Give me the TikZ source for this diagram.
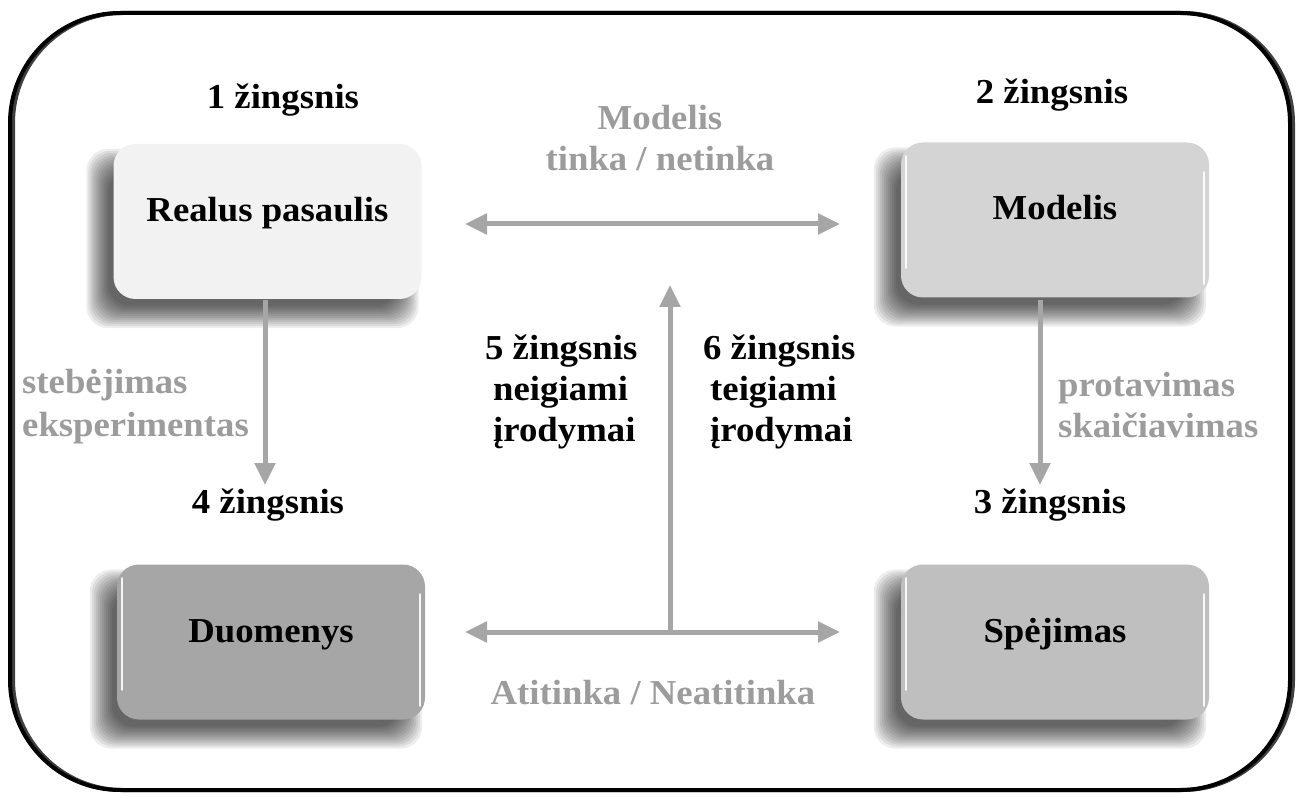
\documentclass[tikz,border=0pt]{standalone}
\usepackage{fontspec}
\setmainfont{Liberation Serif}[FakeStretch=1.05]
\usetikzlibrary{arrows.meta}
\definecolor{arrowgray}{HTML}{A6A6A6}
\definecolor{labelgray}{HTML}{9C9C9C}
\definecolor{fillA}{HTML}{F2F2F2}
\definecolor{fillB}{HTML}{D4D4D4}
\definecolor{fillC}{HTML}{BFBFBF}
\definecolor{fillD}{HTML}{A6A6A6}
\pgfdeclarelayer{bottom}
\pgfdeclarelayer{shadowlayer}
\pgfsetlayers{bottom,shadowlayer,main}
\newcommand{\softshadow}[1]{%
  \begin{pgfonlayer}{shadowlayer}
  \foreach \k in {0,...,11}{%
    \pgfmathsetmacro{\dd}{12-2*\k}
    \fill[black, opacity=0.07, rounded corners=22pt]
      ([shift={(-15-\dd,17+\dd)}]#1.south west) rectangle ([shift={(-15+\dd,17-\dd)}]#1.north east);
  }
  \end{pgfonlayer}}
\newcommand{\gloss}[1]{%
  \draw[white, line width=2.5pt, line cap=round, opacity=0.9]
    ([shift={(5,14)}]#1.north west) -- ([shift={(5,-30)}]#1.south west);
  \draw[white, line width=2.5pt, line cap=round, opacity=0.9]
    ([shift={(-5,30)}]#1.north east) -- ([shift={(-5,-14)}]#1.south east);}
\begin{document}
\begin{tikzpicture}[x=1pt,y=-1pt,
  box/.style={rectangle, rounded corners=22pt, minimum width=308pt, minimum height=155pt,
    inner sep=0pt, font=\bfseries\fontsize{35}{41}\selectfont, text height=20pt, text depth=20pt},
  steplabel/.style={font=\bfseries\fontsize{35}{41}\selectfont, inner sep=0pt},
  graylabel/.style={steplabel, text=labelgray},
  conn/.style={draw=arrowgray, line width=5pt, -{Triangle[length=22pt,width=20pt]}},
  biconn/.style={draw=arrowgray, line width=5pt, {Triangle[length=22pt,width=20pt]}-{Triangle[length=22pt,width=20pt]}},
]
\useasboundingbox (0,0) rectangle (1298,799);
\begin{pgfonlayer}{bottom}
\fill[white] (0,0) rectangle (1298,799);
% outer frame
\draw[line width=4pt, black!75, rounded corners=110pt] (13,13) rectangle (1293,790);
\draw[line width=4pt, black, rounded corners=110pt] (10,13) rectangle (1290,790);
\end{pgfonlayer}

% boxes
\node[box, fill=fillA] (real)  at (267.5,221.5) {Realus pasaulis};
\node[box, fill=fillB] (model) at (1055,220) {Modelis};
\node[box, fill=fillD] (data)  at (271,642) {Duomenys};
\node[box, fill=fillC] (pred)  at (1055,642) {Spėjimas};
\softshadow{real}
\softshadow{model}
\softshadow{data}
\softshadow{pred}
\gloss{model}
\gloss{data}
\gloss{pred}

% step labels
\node[steplabel] (s1) at (283,100) {1 žingsnis};
\node[steplabel] (s2) at (1052,95) {2 žingsnis};
\node[steplabel] (s4) at (268,505) {4 žingsnis};
\node[steplabel] (s3) at (1050,505) {3 žingsnis};

\node[steplabel, align=left, anchor=north west] (s5) at (485,335) {5 žingsnis\\\hspace*{8pt}neigiami\\\hspace*{8pt}įrodymai};
\node[steplabel, align=left, anchor=north west] (s6) at (703,335) {6 žingsnis\\\hspace*{7pt}teigiami\\\hspace*{7pt}įrodymai};

% gray labels
\node[graylabel, align=center] (fit) at (660,138) {Modelis\\tinka / netinka};
\node[graylabel, align=left, anchor=west] (obs) at (22,407) {stebėjimas\\[2pt]eksperimentas};
\node[graylabel, align=left, anchor=west] (calc) at (1058,405) {protavimas\\skaičiavimas};
\node[graylabel] (match) at (653,693) {Atitinka / Neatitinka};

% connector end points
\coordinate (tl) at (465,224);
\coordinate (tr) at (840,224);
\coordinate (bl) at (465,632);
\coordinate (br) at (840,632);
\coordinate (bm) at (670,632);
\coordinate (up) at (670,285);
\coordinate (ls) at (265,300);
\coordinate (le) at (265,485);
\coordinate (rs) at (1040,300);
\coordinate (re) at (1040,485);

\draw[biconn] (tl) -- (tr);
\draw[biconn] (bl) -- (br);
\draw[conn] (bm) -- (up);
\draw[conn] (ls) -- (le);
\draw[conn] (rs) -- (re);
\end{tikzpicture}
\end{document}
